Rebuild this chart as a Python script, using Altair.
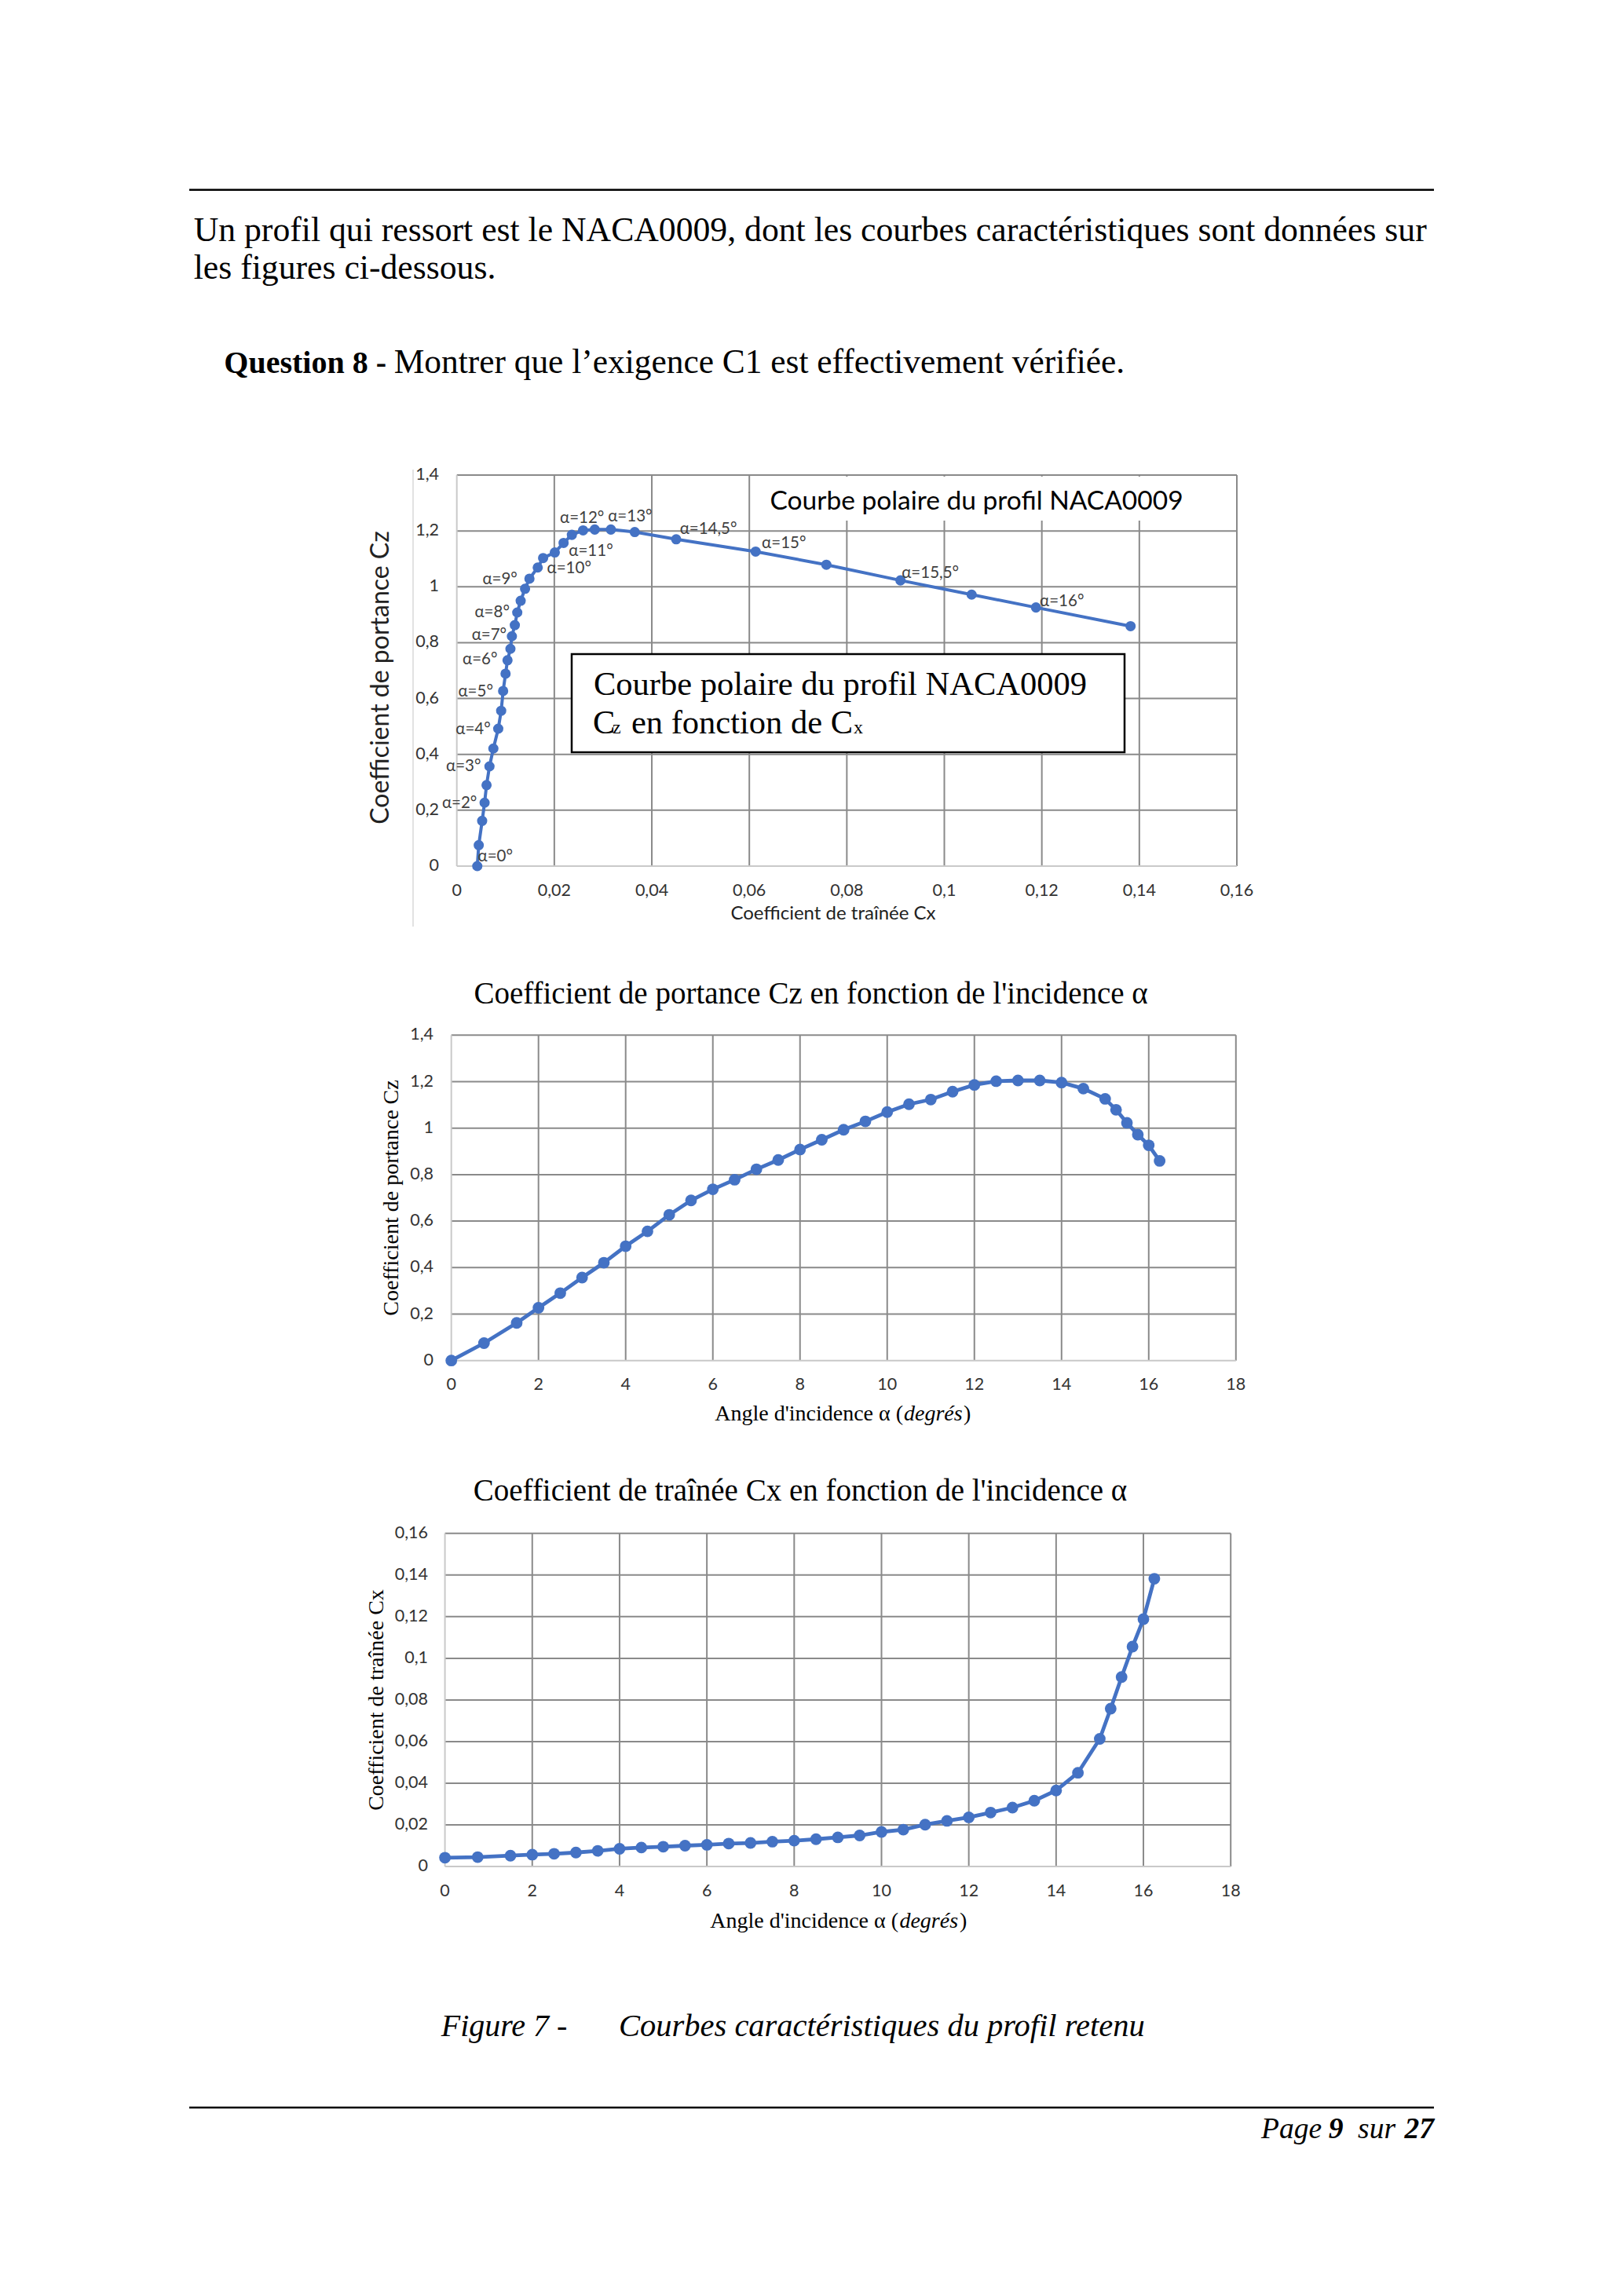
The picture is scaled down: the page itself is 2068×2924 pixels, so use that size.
import altair as alt
import pandas as pd

# ---------------- data ----------------
alpha = [0, 0.75, 1.5, 2, 2.5, 3, 3.5, 4, 4.5, 5, 5.5, 6, 6.5, 7, 7.5, 8, 8.5, 9, 9.5,
         10, 10.5, 11, 11.5, 12, 12.5, 13, 13.5, 14, 14.5, 15, 15.25, 15.5, 15.75, 16, 16.25]
cz = [0, 0.075, 0.162, 0.227, 0.29, 0.357, 0.421, 0.492, 0.556, 0.627, 0.689, 0.737, 0.778,
      0.823, 0.863, 0.908, 0.950, 0.993, 1.029, 1.069, 1.103, 1.123, 1.157, 1.186, 1.202,
      1.205, 1.205, 1.196, 1.170, 1.126, 1.079, 1.023, 0.972, 0.926, 0.859]
cx = [0.0042, 0.0045, 0.0052, 0.0057, 0.0061, 0.0067, 0.0075, 0.0085, 0.0091, 0.0095,
      0.0100, 0.0104, 0.0110, 0.0113, 0.0119, 0.0124, 0.0131, 0.0140, 0.0149, 0.0166,
      0.0177, 0.0201, 0.0219, 0.0236, 0.0259, 0.0283, 0.0316, 0.0365, 0.0450, 0.0613,
      0.0758, 0.0910, 0.1056, 0.1188, 0.1382]

cx_ticks = [0, 0.02, 0.04, 0.06, 0.08, 0.10, 0.12, 0.14, 0.16]
cx_tick_labels = ["0", "0,02", "0,04", "0,06", "0,08", "0,1", "0,12", "0,14", "0,16"]
cz_ticks = [0, 0.2, 0.4, 0.6, 0.8, 1.0, 1.2, 1.4]
cz_tick_labels = ["0", "0,2", "0,4", "0,6", "0,8", "1", "1,2", "1,4"]
alpha_ticks = [0, 2, 4, 6, 8, 10, 12, 14, 16, 18]
alpha_tick_labels = ["0", "2", "4", "6", "8", "10", "12", "14", "16", "18"]

label_alpha = [0, 2, 3, 4, 5, 6, 7, 8, 9, 10, 11, 12, 13, 14.5, 15, 15.5, 16]
label_text = ["α=0°", "α=2°", "α=3°", "α=4°", "α=5°", "α=6°", "α=7°", "α=8°", "α=9°",
              "α=10°", "α=11°", "α=12°", "α=13°", "α=14,5°", "α=15°", "α=15,5°", "α=16°"]
# label offsets (pixels) relative to their point
label_offsets = [(23, -12), (-32, 1), (-33, 0), (-32, 1), (-35, 1), (-35, -1), (-29, -1),
                 (-32, 0), (-32, -12), (40, 1), (46, -2), (13, -21), (45, -16), (41, -13),
                 (36, -10), (38, -9), (33, -8)]

df = pd.DataFrame({"alpha": alpha, "cz": cz, "cx": cx})
lab = pd.DataFrame({"alpha": label_alpha, "text": label_text}).merge(df, on="alpha")

BLUE = "#4472C4"
GRID = "#8a8a8a"
AXL = "#c9c9c9"
SERIF = "Liberation Serif"
SANS = "Lato"
TICKC = "#333333"


def txt(t, x, y, size, font=SERIF, align="left", baseline="alphabetic", weight="normal",
        style="normal", angle=0, color="black"):
    return alt.Chart(pd.DataFrame({"t": [t]})).mark_text(
        font=font, fontSize=size, align=align, baseline=baseline, fontWeight=weight,
        fontStyle=style, angle=angle, color=color
    ).encode(x=alt.value(x), y=alt.value(y), text="t:N")


def hrule(x1, x2, y, color="black", w=2.5):
    return alt.Chart(pd.DataFrame({"a": [0]})).mark_rule(color=color, strokeWidth=w).encode(
        x=alt.value(x1), x2=alt.value(x2), y=alt.value(y))


def vrule(x, y1, y2, color, w):
    return alt.Chart(pd.DataFrame({"a": [0]})).mark_rule(color=color, strokeWidth=w).encode(
        x=alt.value(x), y=alt.value(y1), y2=alt.value(y2))


def rect(x1, x2, y1, y2, fill="white", stroke=None, sw=0):
    kw = dict(fill=fill, strokeWidth=sw)
    if stroke:
        kw["stroke"] = stroke
    return alt.Chart(pd.DataFrame({"a": [0]})).mark_rect(**kw).encode(
        x=alt.value(x1), x2=alt.value(x2), y=alt.value(y1), y2=alt.value(y2))


def grid_layers(xticks, yticks, xs, ys, xdom, ydom):
    gx = pd.DataFrame({"v": xticks, "lo": ydom[0], "hi": ydom[1]})
    gy = pd.DataFrame({"v": yticks, "lo": xdom[0], "hi": xdom[1]})
    vx = alt.Chart(gx[gx.v > xdom[0]]).mark_rule(color=GRID, strokeWidth=2).encode(
        x=alt.X("v:Q", scale=xs, axis=None), y=alt.Y("lo:Q", scale=ys, axis=None), y2="hi:Q")
    vy = alt.Chart(gy[gy.v > ydom[0]]).mark_rule(color=GRID, strokeWidth=2).encode(
        y=alt.Y("v:Q", scale=ys, axis=None), x=alt.X("lo:Q", scale=xs, axis=None), x2="hi:Q")
    ax0 = alt.Chart(gx[gx.v == xdom[0]]).mark_rule(color=AXL, strokeWidth=2).encode(
        x=alt.X("v:Q", scale=xs, axis=None), y=alt.Y("lo:Q", scale=ys, axis=None), y2="hi:Q")
    ay0 = alt.Chart(gy[gy.v == ydom[0]]).mark_rule(color=AXL, strokeWidth=2).encode(
        y=alt.Y("v:Q", scale=ys, axis=None), x=alt.X("lo:Q", scale=xs, axis=None), x2="hi:Q")
    return [vx, vy, ax0, ay0]


def tick_labels(ticks, labels, scale, channel, pos, size):
    d = pd.DataFrame({"v": ticks, "t": labels})
    if channel == "x":
        return alt.Chart(d).mark_text(font=SANS, fontSize=size, align="center",
                                      baseline="middle", color=TICKC).encode(
            x=alt.X("v:Q", scale=scale, axis=None), y=alt.value(pos), text="t:N")
    return alt.Chart(d).mark_text(font=SANS, fontSize=size, align="right",
                                  baseline="middle", color=TICKC).encode(
        y=alt.Y("v:Q", scale=scale, axis=None), x=alt.value(pos), text="t:N")


# ---------------- chart 1 : polar ----------------
S1x = alt.Scale(domain=[0, 0.16], range=[573.7, 1567], nice=False, zero=False)
S1y = alt.Scale(domain=[0, 1.4], range=[1095, 597], nice=False, zero=False)

c1_layers = grid_layers(cx_ticks, cz_ticks, S1x, S1y, (0, 0.16), (0, 1.4))
c1_layers += [
    vrule(518, 590, 1172, "#d9d9d9", 1.5),
    rect(960, 1514, 599, 655),
    txt("Courbe polaire du profil NACA0009", 972.5, 640.5, 33.5, font=SANS),
    rect(720, 1424, 825, 950, fill="white", stroke="black", sw=2.5),
    txt("Courbe polaire du profil NACA0009", 748, 876.6, 42.5),
    txt("C", 747, 926, 42.5),
    txt("z", 772, 926, 24),
    txt("en fonction de C", 1078, 926, 42.5, align="right"),
    txt("x", 1079, 926, 24),
    alt.Chart(df).mark_line(color=BLUE, strokeWidth=4).encode(
        x=alt.X("cx:Q", scale=S1x, axis=None), y=alt.Y("cz:Q", scale=S1y, axis=None),
        order="alpha:Q"),
    alt.Chart(df).mark_circle(color=BLUE, size=170, opacity=1).encode(
        x=alt.X("cx:Q", scale=S1x, axis=None), y=alt.Y("cz:Q", scale=S1y, axis=None)),
]
for a, (dx, dy) in zip(label_alpha, label_offsets):
    c1_layers.append(
        alt.Chart(lab).transform_filter(alt.datum.alpha == a).mark_text(
            font=SANS, fontSize=20.5, color="#404040", dx=dx, dy=dy, baseline="middle").encode(
            x=alt.X("cx:Q", scale=S1x, axis=None), y=alt.Y("cz:Q", scale=S1y, axis=None),
            text="text:N"))
c1_layers += [
    tick_labels(cx_ticks, cx_tick_labels, S1x, "x", 1127, 21.5),
    tick_labels(cz_ticks, cz_tick_labels, S1y, "y", 551, 21.5),
    txt("Coefficient de traînée Cx", 1053, 1156, 24, font=SANS, align="center",
        baseline="middle", color="#222222"),
    txt("Coefficient de portance Cz", 477, 855, 32, font=SANS, align="center",
        baseline="middle", angle=270, color="#222222"),
]
c1 = alt.layer(*c1_layers)

# ---------------- chart 2 : Cz(alpha) ----------------
S2x = alt.Scale(domain=[0, 18], range=[566.7, 1565.8], nice=False, zero=False)
S2y = alt.Scale(domain=[0, 1.4], range=[1724.7, 1310.3], nice=False, zero=False)
c2_layers = grid_layers(alpha_ticks, cz_ticks, S2x, S2y, (0, 18), (0, 1.4))
c2_layers += [
    alt.Chart(df).mark_line(color=BLUE, strokeWidth=4.8).encode(
        x=alt.X("alpha:Q", scale=S2x, axis=None), y=alt.Y("cz:Q", scale=S2y, axis=None)),
    alt.Chart(df).mark_circle(color=BLUE, size=220, opacity=1).encode(
        x=alt.X("alpha:Q", scale=S2x, axis=None), y=alt.Y("cz:Q", scale=S2y, axis=None)),
    tick_labels(alpha_ticks, alpha_tick_labels, S2x, "x", 1756, 21.5),
    tick_labels(cz_ticks, cz_tick_labels, S2y, "y", 544, 21.5),
    txt("Coefficient de portance Cz en fonction de l'incidence α", 1024.6, 1269.6, 39,
        align="center"),
    txt("Angle d'incidence α (", 1142, 1801.4, 28, align="right"),
    txt("degrés", 1143, 1801.4, 28, style="italic"),
    txt(")", 1219, 1801.4, 28),
    txt("Coefficient de portance Cz", 491, 1517.5, 28, align="center", baseline="middle",
        angle=270),
]
c2 = alt.layer(*c2_layers)

# ---------------- chart 3 : Cx(alpha) ----------------
S3x = alt.Scale(domain=[0, 18], range=[558.6, 1559.2], nice=False, zero=False)
S3y = alt.Scale(domain=[0, 0.16], range=[2369, 1944.8], nice=False, zero=False)
c3_layers = grid_layers(alpha_ticks, cx_ticks, S3x, S3y, (0, 18), (0, 0.16))
c3_layers += [
    alt.Chart(df).mark_line(color=BLUE, strokeWidth=4.8).encode(
        x=alt.X("alpha:Q", scale=S3x, axis=None), y=alt.Y("cx:Q", scale=S3y, axis=None)),
    alt.Chart(df).mark_circle(color=BLUE, size=220, opacity=1).encode(
        x=alt.X("alpha:Q", scale=S3x, axis=None), y=alt.Y("cx:Q", scale=S3y, axis=None)),
    tick_labels(alpha_ticks, alpha_tick_labels, S3x, "x", 2401, 21.5),
    tick_labels(cx_ticks, cx_tick_labels, S3y, "y", 537, 21.5),
    txt("Coefficient de traînée Cx en fonction de l'incidence α", 1011, 1902.8, 39,
        align="center"),
    txt("Angle d'incidence α (", 1136, 2447.3, 28, align="right"),
    txt("degrés", 1137.4, 2447.3, 28, style="italic"),
    txt(")", 1214, 2447.3, 28),
    txt("Coefficient de traînée Cx", 472, 2157, 28, align="center", baseline="middle",
        angle=270),
]
c3 = alt.layer(*c3_layers)

# ---------------- page text ----------------
page = alt.layer(
    hrule(233, 1818, 233.7),
    txt("Un profil qui ressort est le NACA0009, dont les courbes caractéristiques sont données sur",
        238.7, 299.3, 43.7),
    txt("les figures ci-dessous.", 238.7, 347, 43.7),
    txt("Question 8 -", 484, 467, 40, weight="bold", align="right"),
    txt("Montrer que l’exigence C1 est effectivement vérifiée.", 493.7, 467, 43.4),
    txt("Figure 7 -", 553.7, 2585, 40, style="italic"),
    txt("Courbes caractéristiques du profil retenu", 780, 2585, 40.5, style="italic"),
    hrule(233, 1818, 2676),
    txt("Page", 1598, 2715, 37.5, style="italic"),
    txt("9", 1683.7, 2715, 37.5, style="italic", weight="bold"),
    txt("sur", 1769, 2715, 37.5, style="italic", align="right"),
    txt("27", 1818, 2715, 37.5, style="italic", weight="bold", align="right"),
)

chart = alt.layer(page, c1, c2, c3).resolve_scale(
    x="independent", y="independent"
).properties(
    width=2040, height=2860, padding=0, autosize=alt.AutoSizeParams(type="none"),
    background="white"
).configure_view(strokeWidth=0)

chart.save("out.html", embed_options={"renderer": "svg", "actions": False})
